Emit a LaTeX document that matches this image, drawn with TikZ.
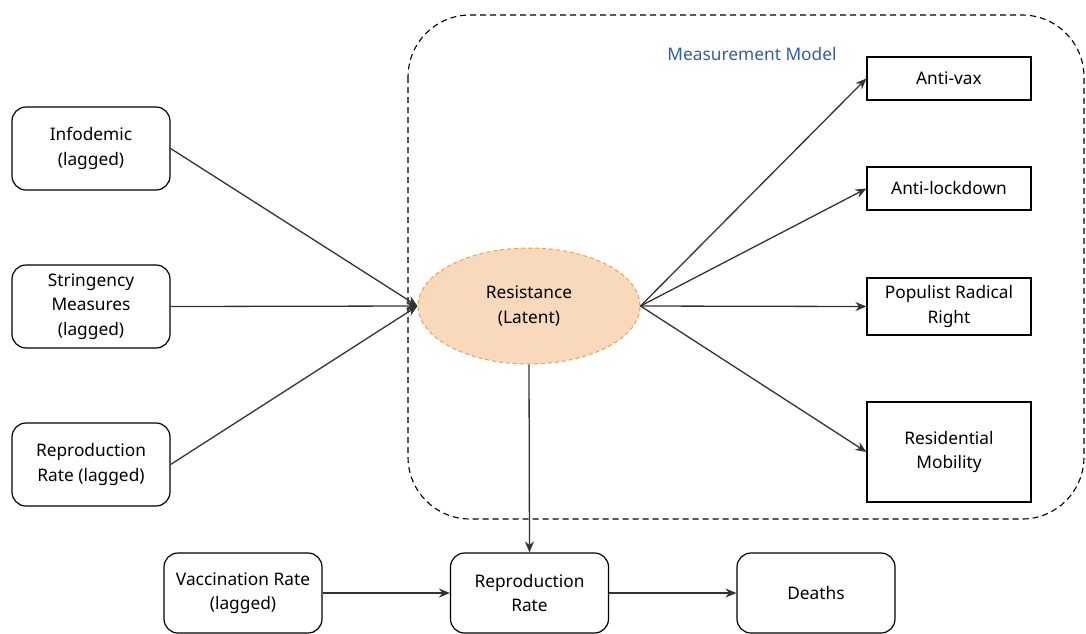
\documentclass[tikz,border=0pt]{standalone}
\usepackage{fontspec}
\setmainfont{Noto Sans}
\usetikzlibrary{shapes.geometric, arrows.meta}
\definecolor{latentfill}{HTML}{F8D9BC}
\definecolor{latentline}{HTML}{EE9F55}
\definecolor{modelblue}{HTML}{2F5DAE}
\definecolor{edgegray}{HTML}{333333}
\tikzset{
  causebox/.style={draw=black, rounded corners=14pt, line width=1.2pt, minimum width=158pt, minimum height=83pt, align=center, inner sep=0pt},
  itembox/.style={draw=black, line width=1.2pt, minimum width=164pt, align=center, inner sep=0pt},
  latent/.style={ellipse, draw=latentline, fill=latentfill, dashed, dash pattern=on 4pt off 3pt, line width=1pt, minimum width=222pt, minimum height=116pt, align=center, inner sep=0pt},
  link/.style={edgegray, line width=1.3pt, -{Stealth[length=11pt, width=9pt]}}
}
\begin{document}
\begin{tikzpicture}[x = 1pt, y = -1pt, font=\fontsize{17.3}{24.5}\selectfont]
  \useasboundingbox (0, 0) rectangle (1086, 633);
  % Measurement model region
  \draw[black, line width=1.1pt, dash pattern=on 6pt off 4pt, rounded corners=62pt] (408, 15) rectangle (1084, 519);
  \node[text=modelblue] (mmlabel) at (752, 54) {Measurement Model};

  % Nodes
  \node[causebox] (info) at (91, 148.5) {Infodemic\\(lagged)};
  \node[causebox] (string) at (91, 306.5) {Stringency\\Measures\\(lagged)};
  \node[causebox] (rlag) at (91, 464.5) {Reproduction\\Rate (lagged)};
  \node[latent] (resist) at (529, 306) {Resistance\\(Latent)};
  \node[itembox, minimum height=43pt] (antivax) at (949, 78.5) {Anti-vax};
  \node[itembox, minimum height=43pt] (antilock) at (949, 188.5) {Anti-lockdown};
  \node[itembox, minimum height=57pt] (populist) at (949, 306.5) {Populist Radical\\Right};
  \node[itembox, minimum height=100pt] (resid) at (949, 452) {Residential\\Mobility};
  \node[causebox, minimum height=80pt] (vacc) at (243, 593) {Vaccination Rate\\(lagged)};
  \node[causebox, minimum height=80pt] (repro) at (529.5, 593) {Reproduction\\Rate};
  \node[causebox, minimum height=80pt] (deaths) at (816, 593) {Deaths};

  % Edges
  \draw[link] (info.east) to (resist.west);
  \draw[link] (string.east) to (resist.west);
  \draw[link] (rlag.east) to (resist.west);
  \draw[link] (resist.east) to (antivax.west);
  \draw[link] (resist.east) to (antilock.west);
  \draw[link] (resist.east) to (populist.west);
  \draw[link] (resist.east) to (resid.west);
  \draw[link] (resist.south) to (repro.north);
  \draw[link] (vacc.east) to (repro.west);
  \draw[link] (repro.east) to (deaths.west);
\end{tikzpicture}
\end{document}
